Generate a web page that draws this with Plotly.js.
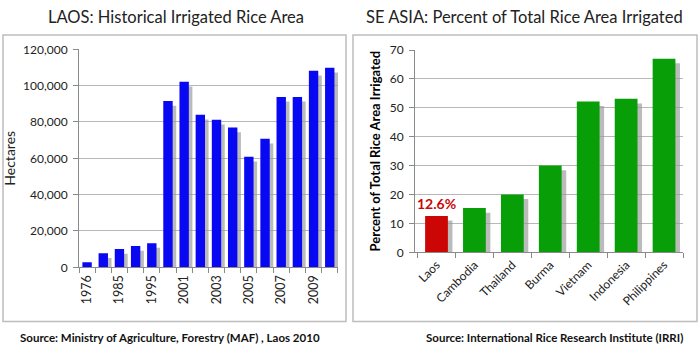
<!DOCTYPE html>
<html>
<head>
<meta charset="utf-8">
<script src="https://cdn.plot.ly/plotly-3.0.1.min.js"></script>
<style>
html,body{margin:0;padding:0;background:#fff;}
#chart{width:700px;height:350px;}
</style>
</head>
<body>
<div id="chart"></div>
<script>
// ---- Data: Laos historical irrigated rice area (hectares) ----
var laosYears = ['1976','1980','1985','1990','1995','2000','2001','2002','2003','2004','2005','2006','2007','2008','2009','2010'];
var laosYearLabels = ['1976','','1985','','1995','','2001','','2003','','2005','','2007','','2009',''];
var laosHectares = [2800, 7700, 10100, 11700, 13300, 91500, 102100, 84000, 81200, 77000, 60800, 70700, 93800, 93800, 108200, 109800];

// ---- Data: SE Asia percent of total rice area irrigated ----
var countries = ['Laos','Cambodia','Thailand','Burma','Vietnam','Indonesia','Philippines'];
var irrigPct = [12.6, 15.3, 20, 30, 52.2, 53.1, 67];
var laosLabel = '12.6%';

var FONT = 'Lato, "Open Sans", sans-serif';
var W = 700, H = 350;
function px(x){return x/W;}
function py(y){return 1 - y/H;}

var blue = '#0808f2';
var green = '#079e07';
var red = '#cc0505';
var shadow = 'rgba(150,150,150,0.65)';

var leftColors = laosYears.map(function(){return blue;});
var rightColors = countries.map(function(c, i){return i === 0 ? red : green;});

var data = [
  // left shadow (base axis)
  {type:'bar', x:laosYears, y:laosHectares, xaxis:'x', yaxis:'y',
   marker:{color:shadow}, width:0.58, offset:-0.29+0.22, hoverinfo:'skip', showlegend:false},
  // left bars
  {type:'bar', x:laosYears, y:laosHectares, xaxis:'x', yaxis:'y3',
   marker:{color:leftColors}, width:0.58, offset:-0.29, showlegend:false},
  // right shadow
  {type:'bar', x:countries, y:irrigPct, xaxis:'x2', yaxis:'y2',
   marker:{color:shadow}, width:0.6, offset:-0.3+0.12, hoverinfo:'skip', showlegend:false},
  // right bars
  {type:'bar', x:countries, y:irrigPct, xaxis:'x2', yaxis:'y4',
   marker:{color:rightColors}, width:0.6, offset:-0.3, showlegend:false}
];

var gridC = '#b8b8b8';
var axC = '#8a8a8a';
var tickF = {family:FONT, size:12, color:'#222'};

var layout = {
  width:W, height:H,
  margin:{l:0,r:0,t:0,b:0},
  paper_bgcolor:'#fff', plot_bgcolor:'rgba(0,0,0,0)',
  barmode:'overlay',
  showlegend:false,
  font:{family:FONT},
  xaxis:{domain:[px(79), px(338)], anchor:'y', type:'category',
    tickmode:'array', tickvals:laosYears, ticktext:laosYearLabels,
    tickangle:-90, tickfont:{family:FONT, size:12.5, color:'#222'}, tickson:'boundaries',
    ticks:'outside', ticklen:5, tickcolor:axC, ticklabelstandoff:2,
    showline:true, linecolor:axC, linewidth:1, showgrid:false, fixedrange:true},
  // shadow axis (hidden), shifted down a few pixels
  yaxis:{domain:[py(267.3), py(49.3)], anchor:'x', range:[2600, 122600],
    visible:false, showgrid:false, zeroline:false, fixedrange:true},
  yaxis3:{overlaying:'y', anchor:'x', range:[0,120000], dtick:20000,
    tickformat:',d', tickfont:tickF, ticks:'outside', ticklen:5, tickcolor:axC,
    ticklabelstandoff:3,
    showline:true, linecolor:axC, showgrid:true, gridcolor:gridC, gridwidth:1,
    zeroline:false, fixedrange:true,
    title:{text:'Hectares', font:{family:FONT, size:14, color:'#222'}, standoff:4}},
  xaxis2:{domain:[px(415), px(683)], anchor:'y2', type:'category',
    tickangle:-45, tickfont:tickF, tickson:'boundaries',
    ticks:'outside', ticklen:5, tickcolor:axC,
    showline:true, linecolor:axC, showgrid:false, fixedrange:true},
  yaxis2:{domain:[py(252.3), py(50)], anchor:'x2', range:[1.6, 71.6],
    visible:false, showgrid:false, zeroline:false, fixedrange:true},
  yaxis4:{overlaying:'y2', anchor:'x2', range:[0,70], dtick:10,
    tickfont:tickF, ticks:'outside', ticklen:5, tickcolor:axC, ticklabelstandoff:3,
    showline:true, linecolor:axC, showgrid:true, gridcolor:gridC,
    zeroline:false, fixedrange:true,
    title:{text:'<b>Percent of Total Rice Area Irrigated</b>', font:{family:FONT, size:13, color:'#000'}, standoff:6}},
  shapes:[
    {type:'rect', xref:'paper', yref:'paper', x0:px(3), x1:px(346), y0:py(321.5), y1:py(35),
     line:{color:'#bdbdbd', width:1.5}, fillcolor:'rgba(0,0,0,0)', layer:'below'},
    {type:'rect', xref:'paper', yref:'paper', x0:px(353), x1:px(697), y0:py(321.5), y1:py(35),
     line:{color:'#bdbdbd', width:1.5}, fillcolor:'rgba(0,0,0,0)', layer:'below'}
  ],
  annotations:[
    {xref:'paper', yref:'paper', x:px(176), y:py(17), text:'LAOS: Historical Irrigated Rice Area',
     showarrow:false, xanchor:'center', yanchor:'middle', font:{family:FONT, size:16.5, color:'#222'}},
    {xref:'paper', yref:'paper', x:px(524), y:py(17), text:'SE ASIA: Percent of Total Rice Area Irrigated',
     showarrow:false, xanchor:'center', yanchor:'middle', font:{family:FONT, size:16.5, color:'#222'}},
    {xref:'paper', yref:'paper', x:px(170), y:py(337), text:'<b>Source: Ministry of Agriculture, Forestry (MAF) , Laos 2010</b>',
     showarrow:false, xanchor:'center', yanchor:'middle', font:{family:FONT, size:11.5, color:'#111'}},
    {xref:'paper', yref:'paper', x:px(554), y:py(337), text:'<b>Source: International Rice Research Institute (IRRI)</b>',
     showarrow:false, xanchor:'center', yanchor:'middle', font:{family:FONT, size:11.5, color:'#111'}},
    {xref:'x2', yref:'y4', x:countries[0], y:irrigPct[0], text:'<b>'+laosLabel+'</b>',
     showarrow:false, xanchor:'center', yanchor:'bottom', yshift:2, font:{family:FONT, size:14, color:red}}
  ]
};

Plotly.newPlot('chart', data, layout, {staticPlot:true, displayModeBar:false});
</script>
</body>
</html>
